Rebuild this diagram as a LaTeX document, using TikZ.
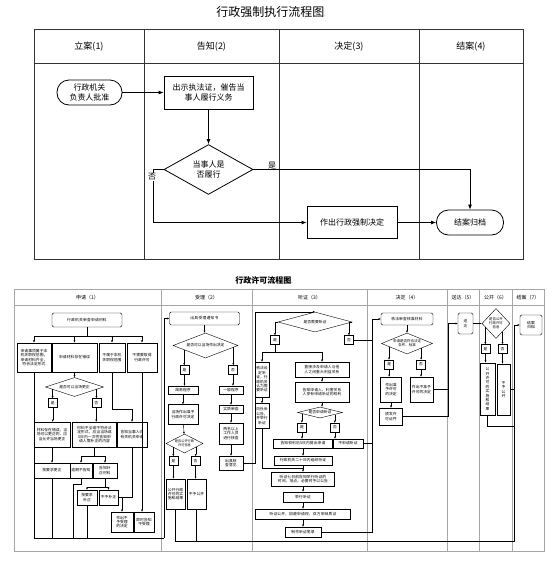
\documentclass[tikz,border=0pt]{standalone}
\usepackage{fontspec}
\setmainfont{Noto Sans CJK SC}
\XeTeXlinebreaklocale "zh"
\XeTeXlinebreakskip = 0pt plus 0.1pt
\usetikzlibrary{%
  arrows.meta,%
  shapes.geometric,% wg. diamond
  calc%
}
\newcommand\tinyzh{\fontsize{3.8}{4.4}\selectfont}

\begin{document}
\begin{tikzpicture}[
  x=1pt, y=-1pt, >={Latex[length=5pt,width=4pt]}, line width=0.8pt,
  lane/.style={draw=black!80, line width=0.8pt},
  grid/.style={draw=black!35, line width=0.7pt},
  lanehead/.style={font=\fontsize{9}{10}\selectfont},
  phead/.style={font=\fontsize{5}{6}\selectfont},
  tbox/.style={rectangle, draw, inner sep=0pt, align=center, font=\fontsize{8}{10.5}\selectfont},
  tterm/.style={tbox, rounded corners=12pt},
  tdec/.style={diamond, draw, inner sep=0pt, align=center, font=\fontsize{8}{10.5}\selectfont},
  tlabel/.style={inner sep=0.5pt, font=\fontsize{8}{9}\selectfont},
  sbox/.style={rectangle, draw, line width=0.4pt, inner sep=0.5pt, align=center, font=\tinyzh},
  sterm/.style={sbox, rounded corners=1.5pt},
  sdec/.style={diamond, draw, line width=0.4pt, inner sep=0pt, align=center, font=\tinyzh},
  syn/.style={sbox, minimum width=9, minimum height=9},
  sline/.style={line width=0.4pt},
  sarr/.style={line width=0.4pt, -{Latex[length=2.2pt,width=2pt]}},
  sz/.style n args={3}{minimum width=#1, minimum height=#2, text width=#3},
  wh/.style 2 args={minimum width=#1, minimum height=#2}
]
\useasboundingbox (0,0) rectangle (559,574);

\node (t-title) at (271,12) {\fontsize{12}{14}\selectfont 行政强制执行流程图{\fontsize{5}{5}\selectfont .}};

\draw[lane] (34,29) rectangle (523,259);
\draw[lane] (34,63) -- (523,63);
\draw[lane] (144,29) -- (144,259);
\draw[lane] (279,29) -- (279,259);
\draw[lane] (419,29) -- (419,259);

\node[lanehead] (h-1) at (89,47) {立案(1)};
\node[lanehead] (h-2) at (211.5,47) {告知(2)};
\node[lanehead] (h-3) at (349,47) {决定(3)};
\node[lanehead] (h-4) at (471,47) {结案(4)};

\node[tterm, wh={65}{25}] (t-approve) at (89.5,92.5) {行政机关\\负责人批准};
\node[tbox, wh={89}{33}] (t-notify) at (208.5,92.5) {出示执法证，催告当\\事人履行义务};
\node[tdec, wh={89}{39}] (t-perform) at (208.5,169.5) {当事人是\\否履行};
  \node[tbox, wh={90}{32}] (t-decide) at (352,222.5) {作出行政强制决定};
  \node[tterm, wh={67}{25}] (t-close) at (470,222.5) {结案归档};
\coordinate (t-no) at (153,222.5);

\draw[->] (t-approve) -- (t-notify);
\draw[->] (t-notify) -- (t-perform);
\draw[->] (t-perform.east) -| (t-close.north);
\draw[->] (t-perform.west) -- (t-no |- t-perform.west) -- (t-no) -- (t-decide.west);
\draw[->] (t-decide) -- (t-close);
\node[tlabel] (t-yes) at (272,166) {是};
\node[tlabel, fill=white] (t-nolabel) at (152,177) {否};

\node (p-title) at (264,280) {\fontsize{8}{9}\selectfont\bfseries 行政许可流程图{\fontsize{4}{4}\selectfont .}};

\draw[grid] (14,289) rectangle (544,551);
\draw[grid] (14,305) -- (544,305);
\draw[grid] (161,289) -- (161,551);
\draw[grid] (252,289) -- (252,551);
\draw[grid] (367,289) -- (367,551);
\draw[grid] (447,289) -- (447,551);
\draw[grid] (479,289) -- (479,551);
\draw[grid] (512,289) -- (512,551);

\node[phead] (p-1) at (87.5,297.5) {申请（1）};
\node[phead] (p-2) at (206.5,297.5) {受理（2）};
\node[phead] (p-3) at (309.5,297.5) {听证（3）};
\node[phead] (p-4) at (407,297.5) {决定（4）};
\node[phead] (p-5) at (463,297.5) {送达（5）};
\node[phead] (p-6) at (495.5,297.5) {公开（6）};
\node[phead] (p-7) at (528,297.5) {结案（7）};

\node[sterm, sz={70}{14}{66}] (a-check) at (87,320) {行政机关审查申请材料};
  \node[sbox, thick, sz={34}{29}{31}] (a-ok) at (34,357.5) {申请事项属于本机关职权范围，申请材料齐全，符合法定形式};
  \node[sbox, thick, sz={45}{29}{40}] (a-err) at (74.5,357.5) {申请材料存在错误};
    \node[sdec, wh={58}{19}, shape aspect=3] (a-fix) at (74.5,387) {是否可以当场更正};
    \node[syn] (a-yes) at (52.75,403) {是};
      \node[sbox, sz={36}{25}{33}] (a-corr) at (52,434.5) {材料存在错误，当场可以更正的，应当允许当场更正};
      \node[sbox, sz={36}{15}{33}] (a-done) at (52,470.5) {按要求更正};
    \node[syn] (a-no) at (96.25,403) {否};
      \node[sbox, sz={44}{25}{41}] (a-supp) at (94.5,434.5) {材料不全或不符合法定形式，应当当场或5日内一次性告知申请人需补正的内容};
      \node[sbox, sz={22}{15}{20}] (a-late) at (81,470.5) {逾期不告知};
      \node[sbox, sz={24}{15}{22}] (a-notify) at (105,470.5) {告知补正材料};
        \node[sbox, sz={20}{15}{18}] (a-redo) at (87,497.5) {按要求补正};
        \node[sbox, sz={19}{15}{17}] (a-refuse) at (108.5,497.5) {不予补正};
  \node[sbox, thick, sz={26}{29}{22}] (a-out) at (112,357.5) {不属于本机关职权范围};
    \node[sbox, sz={30}{25}{26}] (a-tell) at (132,434.5) {告知当事人向有关机关申请};
    \node[sbox, sz={22}{20}{19}] (a-deny) at (122,522) {作出不予受理的决定};
  \node[sbox, thick, sz={30}{29}{25}] (a-none) at (142,357.5) {不需要取得行政许可};
    \node[sbox, sz={20}{20}{17}] (a-inform) at (144,522) {即时告知不受理};
\coordinate (a-bus) at (87,336);
\coordinate (a-bus-b) at (164,538);
\coordinate (a-fix-l) at ($(a-fix.west)!0.25!(a-fix.south)$);
\coordinate (a-fix-r) at ($(a-fix.east)!0.25!(a-fix.south)$);

\draw[sline] (a-check) -- (a-bus);
\draw[sline] (a-ok.north |- a-bus) -- (a-none.north |- a-bus);
  \draw[sarr] (a-ok.north |- a-bus) -- (a-ok.north);
  \draw[sarr] (a-err.north |- a-bus) -- (a-err.north);
  \draw[sarr] (a-out.north |- a-bus) -- (a-out.north);
  \draw[sarr] (a-none.north |- a-bus) -- (a-none.north);
\draw[sarr] (a-err) -- (a-fix);
  \draw[sarr] (a-fix-l) -- (a-fix-l |- a-yes.north);
  \draw[sarr] (a-fix-r) -- (a-fix-r |- a-no.north);
  \draw[sarr] (a-yes) -- (a-yes |- a-corr.north);
  \draw[sarr] (a-no) -- (a-no |- a-supp.north);
    \draw[sarr] (a-corr) -- (a-done);
    \draw[sline] (a-supp.south) -- ++(0,9) coordinate (a-split);
    \draw[sline] (a-late.north |- a-split) -- (a-notify.north |- a-split);
      \draw[sarr] (a-late.north |- a-split) -- (a-late.north);
      \draw[sarr] (a-notify.north |- a-split) -- (a-notify.north);
    \draw[sline] (a-notify.south) -- ++(0,9) coordinate (a-split2);
    \draw[sline] (a-redo.north |- a-split2) -- (a-refuse.north |- a-split2);
      \draw[sarr] (a-redo.north |- a-split2) -- (a-redo.north);
      \draw[sarr] (a-refuse.north |- a-split2) -- (a-refuse.north);
\draw[sarr] (a-out.south) -- ++(0,37) -| (a-tell.north);
\draw[sline] (a-tell.south) |- (a-refuse.east);
\coordinate (a-join) at (a-deny.north |- a-refuse.east);
\draw[sarr] (a-join) -- (a-deny.north);
\draw[sarr] (a-none.south) -- (a-none.south |- a-inform.north);
\draw[sline] (a-ok.south) |- (a-bus-b);
\draw[sline] (a-done.south) -- (a-done.south |- a-bus-b);
\draw[sline] (a-late.south) -- ++(0,6) -- ++(-8,0) |- (a-bus-b);
\draw[sline] (a-redo.south) -- (a-redo.south |- a-bus-b);

\node[sterm, sz={70}{13}{66}] (b-issue) at (204.5,318.5) {出具受理通知书};
\node[sdec, wh={65}{25}, shape aspect=2.5] (b-now) at (205.5,345.5) {是否可以当场作出决定};
\coordinate (b-now-l) at ($(b-now.west)!0.35!(b-now.south)$);
\coordinate (b-now-r) at ($(b-now.east)!0.15!(b-now.south)$);
  \node[syn] (b-yes) at (184.5,370) {是};
    \node[sbox, sz={30}{8}{27}] (b-simple) at (183,390) {简易程序};
    \node[sbox, sz={30}{20}{27}] (b-grant) at (183,414.5) {当场作出准予行政许可决定};
    \node[sdec, wh={37}{19}, shape aspect=2, font=\fontsize{3.2}{3.8}\selectfont] (b-pub) at (184.5,443.5) {是否公开行政\\许可信息};
    \node[syn] (b-pyes) at (173.4,461) {是};
      \node[sbox, sz={19}{30}{16}] (b-open) at (175.5,494) {公开行政许可的实施和结果};
    \node[syn] (b-pno) at (195.6,461) {否};
      \node[sbox, sz={19}{30}{16}] (b-closed) at (196.5,494) {不予公开};
  \node[syn] (b-no) at (233,370) {否};
    \node[sbox, sz={24}{8}{22}] (b-general) at (231,390) {一般程序};
    \node[sbox, sz={24}{8}{22}] (b-check) at (231,409) {实质审查};
    \node[sbox, sz={24}{21}{22}] (b-verify) at (231,433.5) {两名以上工作人员进行核查};
    \node[sbox, sz={24}{14}{22}] (b-opinion) at (231,463) {出具核查意见};
\coordinate (b-pub-l) at ($(b-pub.west)!0.4!(b-pub.south)$);
\coordinate (b-pub-r) at ($(b-pub.east)!0.4!(b-pub.south)$);

\draw[sarr] (a-bus-b) |- (b-issue.west);
\draw[sarr] (b-issue) -- (b-issue |- b-now.north);
  \draw[sarr] (b-now-l) -- (b-now-l |- b-yes.north);
  \draw[sarr] (b-now-r) -- (b-now-r |- b-no.north);
  \draw[sarr] (b-yes.south) -- (b-yes.south |- b-simple.north);
  \draw[sarr] (b-simple) -- (b-grant);
  \draw[sarr] (b-grant) -- (b-pub);
    \draw[sarr] (b-pub-l) -- (b-pub-l |- b-pyes.north);
    \draw[sarr] (b-pub-r) -- (b-pub-r |- b-pno.north);
    \draw[sarr] (b-pyes) -- (b-pyes |- b-open.north);
    \draw[sarr] (b-pno) -- (b-pno |- b-closed.north);
  \draw[sarr] (b-no.south) -- (b-no.south |- b-general.north);
  \draw[sarr] (b-general) -- (b-check);
  \draw[sarr] (b-check) -- (b-verify);
  \draw[sarr] (b-verify) -- (b-opinion);

\node[sdec, wh={74}{20}, shape aspect=3.5] (c-need) at (315,322) {是否需要听证};
  \node[syn] (c-yes) at (275,340) {是};
    \node[sbox, sz={14}{35}{12}] (c-must) at (262,379.5) {依法设定听证，行政机关认为需要听证};
    \node[sbox, sz={14}{25}{12}] (c-announce) at (262,416) {向社会公告，并举行听证};
    \node[sbox, sz={54}{15}{51}] (c-major) at (322,369.5) {直接涉及申请人与他人之间重大利益关系};
    \node[sbox, sz={54}{20}{51}] (c-tell) at (322,392) {告知申请人、利害关系人享有申请听证的权利};
    \node[sdec, wh={45}{11}, shape aspect=4] (c-apply) at (320,412.5) {是否申请听证};
      \node[syn] (c-ayes) at (302,427.5) {是};
        \node[sbox, sz={59}{9}{57}] (c-claim) at (303,443.5) {告知权利后5日内提出申请};
        \node[sbox, sz={58}{9}{57}] (c-days20) at (303,460.5) {行政机关二十日内组织听证};
        \node[sbox, sz={63}{14}{60}] (c-notice) at (303,479) {听证七日前告知举行听证的时间、地点，必要时予以公告};
        \node[sbox, sz={40}{10}{38}] (c-hold) at (303,497) {举行听证};
        \node[sbox, sz={95}{10}{92}] (c-open) at (303,514) {听证公开，回避申请权，双方申辩质证};
        \node[sbox, sz={36}{10}{34}] (c-record) at (303,532) {制作听证笔录};
      \node[syn] (c-ano) at (335,427.5) {否};
        \node[sbox, sz={30}{9}{29}] (c-skip) at (348,443.5) {不申请听证};
  \node[syn] (c-no) at (349,340) {否};
\coordinate (c-apply-l) at ($(c-apply.west)!0.2!(c-apply.south)$);
\coordinate (c-apply-r) at ($(c-apply.east)!0.35!(c-apply.south)$);
\coordinate (c-rail) at (372,319);

\draw[sarr] (b-opinion.east) -- ++(12,0) |- (c-need.north);
\draw[sarr] (c-need.west) -| (c-yes.north);
\draw[sarr] (c-need.east) -| (c-no.north);
\draw[sline] (c-yes.south) -- ++(0,7) coordinate (c-split);
\draw[sline] (c-must.north |- c-split) -- (c-major.north |- c-split);
  \draw[sarr] (c-must.north |- c-split) -- (c-must.north);
  \draw[sarr] (c-major.north |- c-split) -- (c-major.north);
  \draw[sarr] (c-must) -- (c-announce);
  \draw[sline] (c-announce.south) |- ($(c-days20.south)!0.5!(c-notice.north)$);
  \draw[sarr] (c-major) -- (c-tell);
  \draw[sarr] (c-tell) -- (c-tell |- c-apply.north);
    \draw[sarr] (c-apply-l) -- (c-apply-l |- c-ayes.north);
    \draw[sarr] (c-apply-r) -- (c-apply-r |- c-ano.north);
    \draw[sarr] (c-ayes.south) -- (c-ayes.south |- c-claim.north);
    \draw[sarr] (c-ano.south) -- (c-ano.south |- c-skip.north);
    \draw[sarr] (c-claim) -- (c-days20);
    \draw[sarr] (c-days20) -- (c-notice);
    \draw[sarr] (c-notice) -- (c-hold);
    \draw[sarr] (c-hold) -- (c-open);
    \draw[sarr] (c-open) -- (c-record);
\draw[sline] (c-no.east) -- (c-no.east -| c-rail);
\draw[sline] (c-skip.east) -- (c-skip.east -| c-rail);

\node[sterm, sz={52}{12}{50}] (d-check) at (407,319) {依法审查核准材料};
\node[sdec, wh={51}{21}, shape aspect=2.4, font=\fontsize{3.5}{4}\selectfont] (d-meet) at (407,343.5) {申请是否符合法定\\条件、标准};
\coordinate (d-meet-l) at ($(d-meet.west)!0.3!(d-meet.south)$);
\coordinate (d-meet-r) at ($(d-meet.east)!0.45!(d-meet.south)$);
  \node[syn] (d-yes) at (389.15,364.5) {是};
    \node[sbox, sz={21}{25}{18}] (d-grant) at (391,389.5) {作出准予许可的决定};
    \node[sbox, sz={23}{17}{20}] (d-license) at (391,416.5) {颁发许可证件};
  \node[syn] (d-no) at (421,364.5) {否};
    \node[sbox, sz={23}{25}{20}] (d-reject) at (421.5,389.5) {作出不准予许可的决定};
\coordinate (e-rail) at (448,323.5);

\draw[sarr] (c-record.east) -| (c-rail) -- (d-check.west);
\draw[sarr] (d-check) -- (d-meet);
  \draw[sarr] (d-meet-l) -- (d-meet-l |- d-yes.north);
  \draw[sarr] (d-meet-r) -- (d-meet-r |- d-no.north);
  \draw[sarr] (d-yes.south) -- (d-yes.south |- d-grant.north);
  \draw[sarr] (d-no.south) -- (d-no.south |- d-reject.north);
  \draw[sarr] (d-grant) -- (d-license);
\draw[sline] (d-reject.east) -- (d-reject.east -| e-rail);

\node[sterm, wh={15}{21}] (e-serve) at (465.5,323.5) {送\\达};

\node[sdec, wh={28}{30}, shape aspect=0.9, font=\fontsize{3.4}{4}\selectfont] (f-pub) at (496,323.5) {是否公开\\行政许可\\信息};
\coordinate (f-pub-l) at ($(f-pub.west)!0.25!(f-pub.south)$);
\coordinate (f-pub-r) at ($(f-pub.east)!0.54!(f-pub.south)$);
  \node[syn] (f-yes) at (485.5,349) {是};
    \node[sbox, thick, sz={15}{52}{4}] (f-open) at (487.5,389) {公开许可的实施和结果};
  \node[syn] (f-no) at (502.5,349) {否};
    \node[sbox, sz={13}{51}{4}] (f-closed) at (503.5,389.5) {不予公开};
\coordinate (g-rail) at (514,325);

\draw[sarr] (d-license.east) -| (e-rail) -- (e-serve.west);
\draw[sarr] (e-serve) -- (f-pub);
  \draw[sarr] (f-pub-l) -- (f-pub-l |- f-yes.north);
  \draw[sarr] (f-pub-r) -- (f-pub-r |- f-no.north);
  \draw[sarr] (f-yes.south) -- (f-yes.south |- f-open.north);
  \draw[sarr] (f-no.south) -- (f-no.south |- f-closed.north);
\draw[sline] (f-open.south) -- ++(0,11) -| (g-rail);
\draw[sline] (f-closed.east) -- (f-closed.east -| g-rail);

\node[sterm, wh={22}{20}] (g-end) at (531,325) {结案\\归档};

\draw[sarr] (b-open.south) -- ++(0,32) -| (g-rail) -- (g-end.west);
\draw[sline] (b-closed.south) -- ++(0,32);
\end{tikzpicture}
\end{document}
